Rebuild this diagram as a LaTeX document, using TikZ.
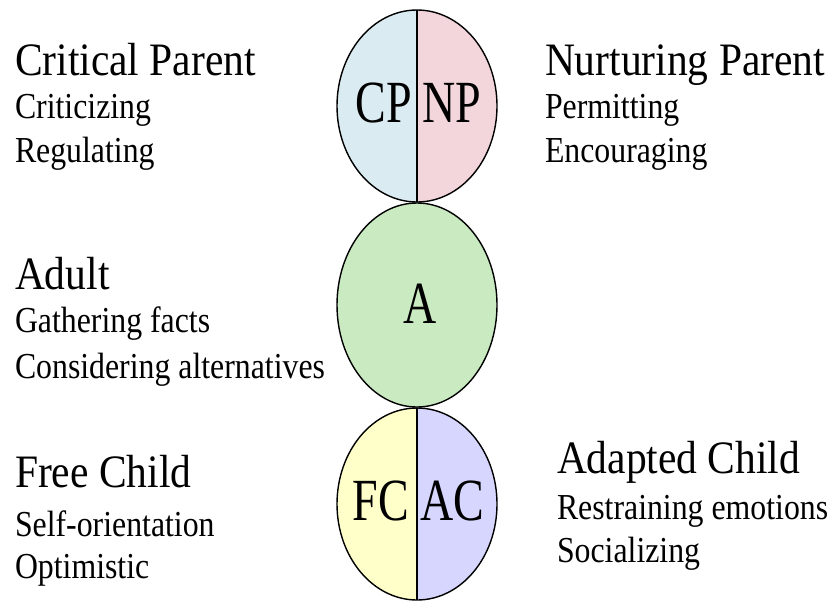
\documentclass[tikz,border=0pt]{standalone}
\usepackage{fontspec}
\setmainfont{Liberation Serif}
\usetikzlibrary{shapes.geometric}
\definecolor{cpcol}{HTML}{DAEBF2}
\definecolor{npcol}{HTML}{F2D6DB}
\definecolor{acol}{HTML}{CAEAC2}
\definecolor{fccol}{HTML}{FFFFCA}
\definecolor{accol}{HTML}{D6D6FF}
\newcommand{\ttltxt}[1]{\scalebox{1}[1.12]{\fontsize{41.5}{41.5}\selectfont #1}}
\newcommand{\subtxt}[1]{\scalebox{1}[1.15]{\fontsize{31.8}{31.8}\selectfont #1}}
\newcommand{\bigtxt}[1]{\scalebox{1}[1.3]{\fontsize{46}{46}\selectfont #1}}
\tikzset{
  txt/.style={anchor=base west, inner sep=0pt, outer sep=0pt, text=black},
  ego/.style={ellipse, draw=black, line width=1.4pt, inner sep=0pt, minimum width=160pt},
  split/.style 2 args={path picture={
      \fill[#1] (path picture bounding box.north west) rectangle (path picture bounding box.south);
      \fill[#2] (path picture bounding box.north) rectangle (path picture bounding box.south east);
      \draw[line width=1.4pt] (path picture bounding box.north) -- (path picture bounding box.south);}},
  lett/.style={inner sep=0pt, outer sep=0pt}
}
\begin{document}
\begin{tikzpicture}[x=1pt,y=-1pt]
\useasboundingbox[fill=white] (0,0) rectangle (834,600);
% ego state ellipses
\node[ego, minimum height=192pt, split={cpcol}{npcol}] (P) at (417,106) {};
\node[ego, minimum height=204pt, fill=acol] (A) at (417,305) {};
\node[ego, minimum height=192pt, split={fccol}{accol}] (C) at (417,504) {};
% letters
\node[lett, anchor=base east] (cp) at (412,122) {\bigtxt{CP}};
\node[lett, anchor=base west] (np) at (422,122) {\bigtxt{NP}};
\node[lett, anchor=base] (a) at (420,323) {\bigtxt{A}};
\node[lett, anchor=base east] (fc) at (409,520) {\bigtxt{FC}};
\node[lett, anchor=base west] (ac) at (420,520) {\bigtxt{AC}};
% left texts
\node[txt] (cpt) at (15,75) {\ttltxt{Critical Parent}};
\node[txt] (cp1) at (15,118) {\subtxt{Criticizing}};
\node[txt] (cp2) at (15,162) {\subtxt{Regulating}};
\node[txt] (at) at (15,289) {\ttltxt{Adult}};
\node[txt] (a1) at (15,332) {\subtxt{Gathering facts}};
\node[txt] (a2) at (15,378) {\subtxt{Considering alternatives}};
\node[txt] (fct) at (15,487) {\ttltxt{Free Child}};
\node[txt] (fc1) at (15,536) {\subtxt{Self-orientation}};
\node[txt] (fc2) at (15,578) {\subtxt{Optimistic}};
% right texts
\node[txt] (npt) at (545,75) {\ttltxt{Nurturing Parent}};
\node[txt] (np1) at (545,118) {\subtxt{Permitting}};
\node[txt] (np2) at (545,162) {\subtxt{Encouraging}};
\node[txt] (act) at (557,473) {\ttltxt{Adapted Child}};
\node[txt] (ac1) at (557,519) {\subtxt{Restraining emotions}};
\node[txt] (ac2) at (557,562) {\subtxt{Socializing}};
\end{tikzpicture}
\end{document}
